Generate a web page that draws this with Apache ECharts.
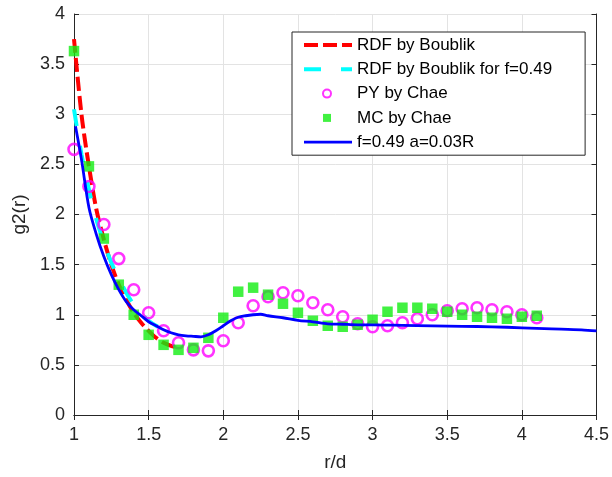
<!DOCTYPE html>
<html>
<head>
<meta charset="utf-8">
<script src="https://cdn.jsdelivr.net/npm/echarts@6/dist/echarts.min.js"></script>
<style>html,body{margin:0;padding:0;background:#fff}#c{width:612px;height:477px}</style>
</head>
<body>
<div id="c"></div>
<script>
// ---- data ----
var xTicks = [1, 1.5, 2, 2.5, 3, 3.5, 4, 4.5];
var yTicks = [0, 0.5, 1, 1.5, 2, 2.5, 3, 3.5, 4];

var rdfX = [1, 1.05, 1.1, 1.15, 1.2, 1.25, 1.3, 1.35, 1.4, 1.45, 1.5, 1.55, 1.6, 1.65, 1.7];
var rdfY = [3.75, 3.0, 2.48, 2.05, 1.75, 1.5, 1.3, 1.15, 1.02, 0.92, 0.84, 0.77, 0.72, 0.69, 0.67];

var rdf49X = [1, 1.05, 1.1, 1.15, 1.2, 1.25, 1.3, 1.35, 1.4, 1.45, 1.5, 1.55, 1.6];
var rdf49Y = [3.05, 2.6, 2.25, 1.95, 1.72, 1.52, 1.36, 1.22, 1.1, 1.01, 0.94, 0.89, 0.86];

var chaeX = [1.0, 1.1, 1.2, 1.3, 1.4, 1.5, 1.6, 1.7, 1.8, 1.9, 2.0, 2.1, 2.2, 2.3, 2.4, 2.5, 2.6, 2.7, 2.8, 2.9, 3.0, 3.1, 3.2, 3.3, 3.4, 3.5, 3.6, 3.7, 3.8, 3.9, 4.0, 4.1];
var pyY = [2.65, 2.28, 1.9, 1.56, 1.25, 1.02, 0.84, 0.72, 0.65, 0.64, 0.74, 0.92, 1.09, 1.18, 1.22, 1.19, 1.12, 1.05, 0.98, 0.91, 0.88, 0.89, 0.92, 0.96, 1.0, 1.04, 1.06, 1.07, 1.05, 1.03, 1.0, 0.97];
var mcY = [3.63, 2.48, 1.76, 1.3, 1.0, 0.8, 0.7, 0.65, 0.67, 0.77, 0.97, 1.23, 1.27, 1.2, 1.11, 1.02, 0.94, 0.89, 0.88, 0.9, 0.95, 1.03, 1.07, 1.07, 1.06, 1.03, 1.0, 0.98, 0.97, 0.96, 0.98, 0.99];

var fitX = [1.01, 1.05, 1.1, 1.15, 1.2, 1.25, 1.3, 1.35, 1.4, 1.45, 1.5, 1.55, 1.6, 1.65, 1.7, 1.75, 1.8, 1.85, 1.9, 1.95, 2.0, 2.05, 2.1, 2.15, 2.2, 2.25, 2.3, 2.4, 2.5, 2.6, 2.7, 2.8, 2.9, 3.0, 3.2, 3.4, 3.6, 3.8, 4.0, 4.2, 4.4, 4.5];
var fitY = [2.88, 2.55, 2.07, 1.8, 1.58, 1.4, 1.25, 1.13, 1.05, 0.99, 0.93, 0.89, 0.85, 0.82, 0.8, 0.79, 0.785, 0.78, 0.8, 0.84, 0.89, 0.94, 0.975, 0.99, 1.0, 1.005, 0.99, 0.97, 0.945, 0.93, 0.91, 0.905, 0.9, 0.9, 0.895, 0.89, 0.885, 0.88, 0.87, 0.86, 0.85, 0.84];

var names = ['RDF by Boublik', 'RDF by Boublik for f=0.49', 'PY by Chae', 'MC by Chae', 'f=0.49 a=0.03R'];

function pairs(xs, ys) { return xs.map(function (x, i) { return [x, ys[i]]; }); }

var FONT = 'Liberation Sans, Arial, Helvetica, sans-serif';
var chart = echarts.init(document.getElementById('c'), null, { renderer: 'canvas' });

var baseAxis = {
  type: 'value',
  axisLine: { show: true, lineStyle: { color: '#262626', width: 1 } },
  axisTick: { show: true, inside: true, length: 5, lineStyle: { color: '#262626' } },
  splitLine: { show: true, lineStyle: { color: '#e3e3e3', width: 1 } },
  axisLabel: { color: '#262626', fontSize: 18, fontFamily: FONT }
};
function ax(extra) { return Object.assign({}, JSON.parse(JSON.stringify(baseAxis)), extra); }

var LEG_TOP = 32, LEG_GAP = 7.3, LEG_FS = 17;
var hidden = { opacity: 0, borderWidth: 0 };

chart.setOption({
  animation: false,
  backgroundColor: '#fff',
  grid: { left: 74, right: 13, top: 14, bottom: 57, containLabel: false },
  xAxis: [
    ax({ min: xTicks[0], max: xTicks[xTicks.length - 1], interval: 0.5, position: 'bottom',
         name: 'r/d', nameLocation: 'middle', nameGap: 38,
         nameTextStyle: { color: '#262626', fontSize: 19, fontFamily: FONT },
         axisLabel: { color: '#262626', fontSize: 18, fontFamily: FONT, margin: 11 } }),
    ax({ min: xTicks[0], max: xTicks[xTicks.length - 1], interval: 0.5, position: 'top',
         axisLabel: { show: false }, splitLine: { show: false } })
  ],
  yAxis: [
    ax({ min: yTicks[0], max: yTicks[yTicks.length - 1], interval: 0.5, position: 'left',
         name: 'g2(r)', nameLocation: 'middle', nameGap: 40, nameRotate: 90,
         nameTextStyle: { color: '#262626', fontSize: 19, fontFamily: FONT },
         axisLabel: { color: '#262626', fontSize: 18, fontFamily: FONT, margin: 9 } }),
    ax({ min: yTicks[0], max: yTicks[yTicks.length - 1], interval: 0.5, position: 'right',
         axisLabel: { show: false }, splitLine: { show: false } })
  ],
  legend: [
    {
      orient: 'vertical', left: 292, top: LEG_TOP,
      backgroundColor: '#fff', borderColor: '#262626', borderWidth: 1, borderRadius: 0,
      padding: [4.5, 33, 4.5, 10],
      itemWidth: 48, itemHeight: 14, itemGap: LEG_GAP,
      lineStyle: { width: 'inherit' },
      textStyle: { color: '#000', fontSize: LEG_FS, fontFamily: FONT },
      data: [
        { name: names[0], itemStyle: hidden },
        { name: names[1], itemStyle: hidden },
        { name: names[2], itemStyle: hidden },
        { name: names[3], itemStyle: hidden },
        { name: names[4], itemStyle: hidden }
      ]
    },
    {
      orient: 'vertical', left: 322, top: LEG_TOP + 2 * (LEG_FS + LEG_GAP),
      backgroundColor: 'transparent', borderWidth: 0,
      padding: [4.5, 0, 4.5, 0],
      itemWidth: 8, itemHeight: 8, itemGap: LEG_GAP,
      textStyle: { color: 'rgba(0,0,0,0)', fontSize: LEG_FS, fontFamily: FONT },
      data: [names[2], names[3]]
    }
  ],
  series: [
    { name: names[0], type: 'line', data: pairs(rdfX, rdfY), showSymbol: false, symbol: 'none', smooth: 0.3,
      lineStyle: { color: '#ff0000', width: 4, type: [14, 5] }, itemStyle: { color: '#ff0000' }, z: 2 },
    { name: names[1], type: 'line', data: pairs(rdf49X, rdf49Y), showSymbol: false, symbol: 'none', smooth: 0.3,
      lineStyle: { color: '#00ffff', width: 4, type: [17, 20] }, itemStyle: { color: '#00ffff' }, z: 3 },
    { name: names[2], type: 'scatter', data: pairs(chaeX, pyY), symbol: 'circle', symbolSize: 11,
      itemStyle: { color: 'rgba(255,255,255,0)', borderColor: '#ff00ff', borderWidth: 2.6 }, z: 4 },
    { name: names[3], type: 'scatter', data: pairs(chaeX, mcY), symbol: 'rect', symbolSize: 10.5,
      itemStyle: { color: '#11ee11' }, z: 5 },
    { name: names[4], type: 'line', data: pairs(fitX, fitY), showSymbol: false, symbol: 'none', smooth: 0.3,
      lineStyle: { color: '#0000ff', width: 2.8 }, itemStyle: { color: '#0000ff' }, z: 6 }
  ]
});
</script>
</body>
</html>
